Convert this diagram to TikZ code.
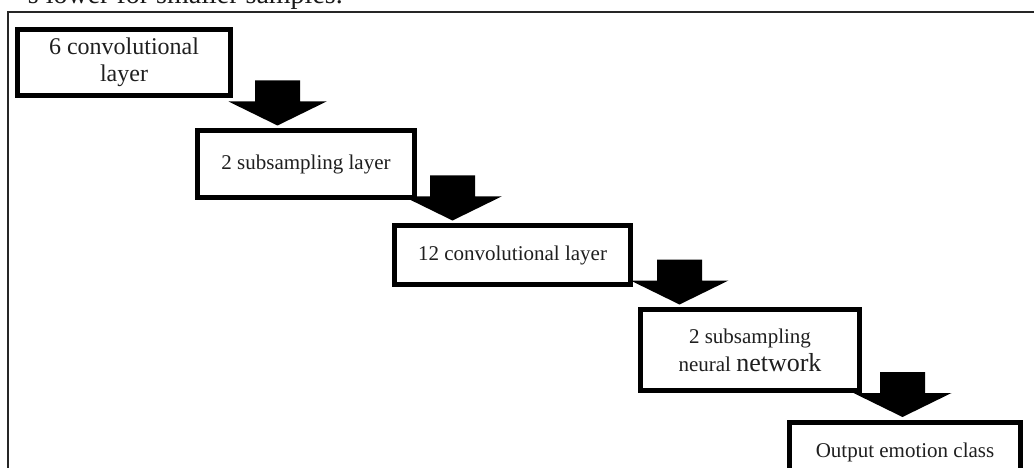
\documentclass[tikz,border=0pt]{standalone}
\usepackage{fontspec}
\setmainfont{Liberation Serif}
\usetikzlibrary{calc}
\tikzset{
  layerbox/.style={draw=black, line width=5pt, fill=white, align=center,
    inner sep=0pt, text=black!88},
  blockarrow/.style={fill=black},
  frameline/.style={draw=black!85, line width=1.8pt}
}
\begin{document}
\begin{tikzpicture}[x=1pt,y=-1pt]
\useasboundingbox (0,0) rectangle (1034,468);
\clip (0,0) rectangle (1034,468);
% cropped running text from the page above
\node[anchor=base east, inner sep=0pt, font=\fontsize{28}{30}\selectfont, text=black!90] (toptext) at (343,3.5) {s lower for smaller samples.};
% outer frame
\draw[frameline] (8,480) -- (8,12) -- (1040,12);
% boxes
\node[layerbox, minimum width=213pt, minimum height=66pt,
  font=\fontsize{24}{27}\selectfont] (b1) at (124,62.5) {6 convolutional\\layer};
\node[layerbox, minimum width=217pt, minimum height=67pt,
  font=\fontsize{21}{24}\selectfont] (b2) at (306,164) {2 subsampling layer};
\node[layerbox, minimum width=236pt, minimum height=59pt,
  font=\fontsize{21}{24}\selectfont] (b3) at (512.5,255) {12 convolutional layer};
\node[layerbox, minimum width=219pt, minimum height=81pt,
  font=\fontsize{21}{28}\selectfont] (b4) at (750,350) {2 subsampling\\neural {\fontsize{26}{28}\selectfont network}};
\node[layerbox, minimum width=231pt, minimum height=60pt,
  font=\fontsize{21}{24}\selectfont] (b5) at (905,452) {Output emotion class};
% arrow tips
\coordinate (t1) at ($(b2.north west)+(82.5,-2.5)$);
\coordinate (t2) at ($(b3.north west)+(60.5,-2.5)$);
\coordinate (t3) at ($(b4.north west)+(41.5,-2.5)$);
\coordinate (t4) at ($(b5.north west)+(115.5,-2.5)$);
% block arrows
\foreach \t in {t1,t2,t3,t4}{
  \fill[blockarrow] (\t) -- ++(-49,-24) -- ++(26.5,0) -- ++(0,-21) -- ++(45,0)
    -- ++(0,21) -- ++(26.5,0) -- cycle;
}
\end{tikzpicture}
\end{document}
